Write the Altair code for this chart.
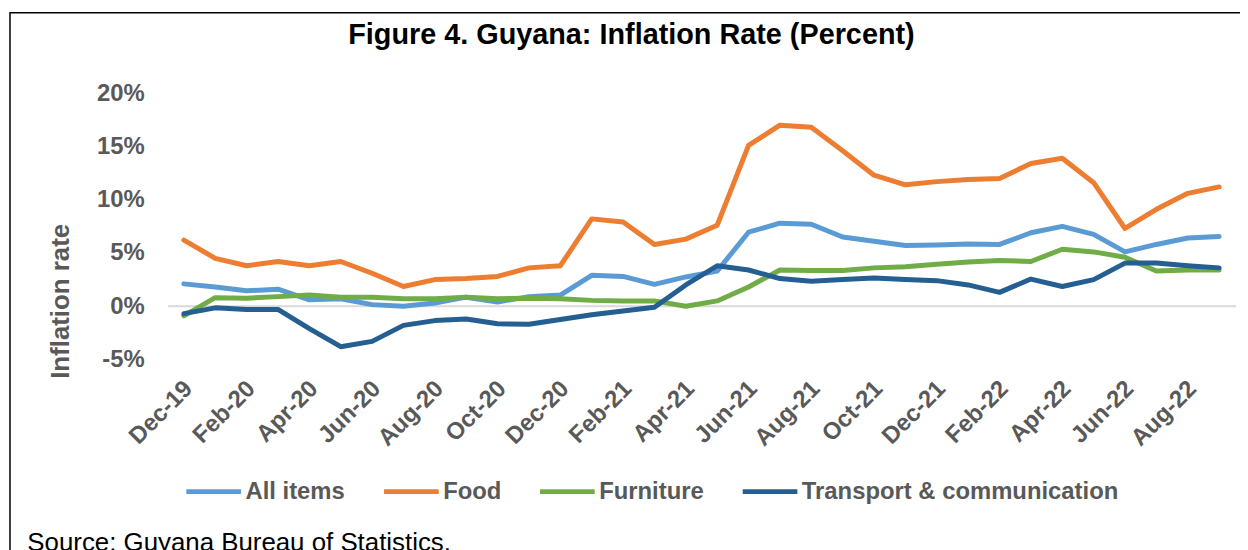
import altair as alt
import pandas as pd

months = ["Dec-19", "Jan-20", "Feb-20", "Mar-20", "Apr-20", "May-20", "Jun-20",
          "Jul-20", "Aug-20", "Sep-20", "Oct-20", "Nov-20", "Dec-20", "Jan-21",
          "Feb-21", "Mar-21", "Apr-21", "May-21", "Jun-21", "Jul-21", "Aug-21",
          "Sep-21", "Oct-21", "Nov-21", "Dec-21", "Jan-22", "Feb-22", "Mar-22",
          "Apr-22", "May-22", "Jun-22", "Jul-22", "Aug-22", "Sep-22"]

series_names = ["All items", "Food", "Furniture", "Transport & communication"]
series_colors = ["#5B9BD5", "#ED7D31", "#70AD47", "#255E91"]

all_items = [2.1, 1.8, 1.45, 1.6, 0.6, 0.7, 0.15, 0.0, 0.3, 0.85, 0.4, 0.9,
             1.05, 2.9, 2.8, 2.05, 2.75, 3.3, 6.95, 7.8, 7.7, 6.5, 6.1, 5.7,
             5.75, 5.85, 5.8, 6.9, 7.5, 6.75, 5.1, 5.8, 6.4, 6.55]
food = [6.2, 4.5, 3.8, 4.2, 3.8, 4.2, 3.1, 1.85, 2.5, 2.6, 2.8, 3.6,
        3.8, 8.2, 7.9, 5.8, 6.3, 7.6, 15.1, 17.0, 16.8, 14.6, 12.3, 11.4,
        11.7, 11.9, 12.0, 13.4, 13.9, 11.6, 7.3, 9.1, 10.6, 11.2]
furniture = [-0.9, 0.8, 0.75, 0.9, 1.05, 0.85, 0.85, 0.7, 0.7, 0.85, 0.7, 0.75,
             0.7, 0.55, 0.5, 0.5, 0.0, 0.5, 1.8, 3.4, 3.35, 3.35, 3.6, 3.7,
             3.95, 4.15, 4.3, 4.2, 5.35, 5.1, 4.6, 3.3, 3.4, 3.4]
transport = [-0.7, -0.15, -0.3, -0.3, -2.1, -3.8, -3.3, -1.8, -1.35, -1.2, -1.65, -1.7,
             -1.25, -0.8, -0.45, -0.1, 2.0, 3.8, 3.4, 2.6, 2.35, 2.5, 2.65, 2.5,
             2.4, 2.0, 1.3, 2.55, 1.85, 2.5, 4.05, 4.05, 3.8, 3.6]

y_ticks = [-0.05, 0.0, 0.05, 0.10, 0.15, 0.20]

rows = []
for name, vals in zip(series_names, [all_items, food, furniture, transport]):
    for m, v in zip(months, vals):
        rows.append({"month": m, "series": name, "value": v / 100.0})
df = pd.DataFrame(rows)

FONT = "Liberation Sans, Arial, sans-serif"
GRAY = "#595959"

frame = alt.Chart(pd.DataFrame({"k": [0]})).mark_rect(
    fillOpacity=0, stroke="black", strokeWidth=1.5
).encode(
    x=alt.value(-159), x2=alt.value(1300), y=alt.value(-81), y2=alt.value(700)
)

zero = alt.Chart(pd.DataFrame({"k": [0]})).mark_rule(
    color="#D9D9D9", strokeWidth=2
).encode(y=alt.datum(0))

lines = alt.Chart(df).mark_line(
    strokeWidth=5, strokeCap="round", strokeJoin="round"
).encode(
    x=alt.X("month:O", sort=months,
            scale=alt.Scale(type="point", range=[16, 1058], padding=0),
            axis=alt.Axis(values=months[::2], labelAngle=-45, labelFontSize=24,
                          labelFontWeight="bold", labelColor=GRAY, labelFont=FONT,
                          ticks=False, domain=False, grid=False, labelPadding=17,
                          labelOffset=-4, labelOverlap=False,
                          title="Source: Guyana Bureau of Statistics.",
                          titleFont=FONT, titleFontSize=26, titleFontWeight="normal",
                          titleColor="black", titleX=-142, titleY=192,
                          titleAlign="left", titleBaseline="alphabetic")),
    y=alt.Y("value:Q", scale=alt.Scale(domain=[-0.05, 0.20], nice=False),
            axis=alt.Axis(values=y_ticks, labelExpr="round(datum.value*100) + '%'",
                          labelFontSize=24, labelFontWeight="bold", labelColor=GRAY,
                          labelFont=FONT, ticks=False, domain=False, grid=False,
                          labelPadding=24, title="Inflation rate", titleFont=FONT,
                          titleFontSize=26, titleFontWeight="bold", titleColor=GRAY,
                          titleX=-108, titleY=209, titleAngle=270,
                          titleAlign="center", titleBaseline="middle")),
    color=alt.Color("series:N",
                    scale=alt.Scale(domain=series_names, range=series_colors),
                    legend=alt.Legend(orient="none", legendX=16, legendY=371,
                                      direction="horizontal", title=None,
                                      symbolType="stroke", symbolSize=3025,
                                      symbolStrokeWidth=5, labelFontSize=24,
                                      labelFontWeight="bold", labelColor=GRAY,
                                      labelFont=FONT, columnPadding=28,
                                      labelOffset=2, labelLimit=500, padding=0)),
)

chart = alt.layer(frame, zero, lines).properties(
    width=1075, height=268,
    autosize=alt.AutoSizeParams(type="none"),
    padding={"left": 161, "top": 84, "right": 4, "bottom": 190},
    title=alt.TitleParams("Figure 4. Guyana: Inflation Rate (Percent)", font=FONT,
                          fontSize=29, fontWeight="bold", color="black",
                          anchor="middle", frame="group", dx=-71, offset=-61,
                          baseline="alphabetic"),
    background="white",
).configure_view(strokeWidth=0)

chart.save("out.html", embed_options={"renderer": "svg", "actions": False})
